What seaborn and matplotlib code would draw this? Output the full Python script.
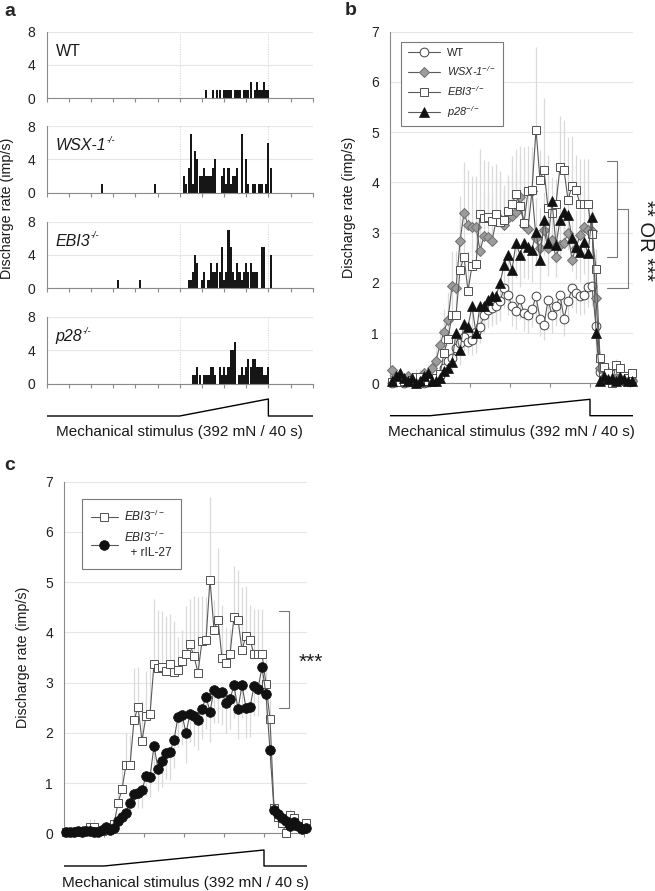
import numpy as np
import pandas as pd
import matplotlib
matplotlib.use("Agg")
import matplotlib.pyplot as plt
import seaborn as sns

sns.set_theme(style="white")
plt.rcParams["font.family"] = ["Liberation Sans", "DejaVu Sans"]
plt.rcParams["mathtext.fontset"] = "custom"
plt.rcParams["mathtext.rm"] = "Liberation Sans"
plt.rcParams["mathtext.it"] = "Liberation Sans:italic"
plt.rcParams["mathtext.bf"] = "Liberation Sans:bold"
plt.rcParams["mathtext.default"] = "regular"

# ---------------- data ----------------
# panel a: single-fibre histograms, 1-s bins (bin centre in s, spikes per bin)
hist_bins = np.arange(0, 121)
wt_bins = [72, 75, 77, 78, 80, 81, 82, 83, 85, 86, 87, 89, 90, 91, 92, 94, 95, 96, 97, 98, 99, 100]
wt_counts = [1, 1, 1, 1, 1, 1, 1, 1, 1, 1, 1, 1, 1, 1, 2, 1, 2, 1, 1, 2, 1, 1]
wsx_bins = [25, 49, 62, 63, 64, 65, 66, 67, 68, 69, 70, 71, 72, 73, 74, 75, 76, 79, 80, 81, 82, 83,
            84, 85, 86, 88, 90, 91, 93, 94, 96, 97, 99, 100, 101]
wsx_counts = [1, 1, 2, 1, 3, 7, 1, 5, 4, 2, 2, 3, 2, 2, 2, 3, 4, 2, 3, 1, 3, 1,
              2, 2, 3, 7, 4, 1, 1, 1, 1, 1, 1, 6, 3]
ebi_bins = [32, 42, 64, 65, 66, 67, 68, 70, 71, 73, 74, 75, 76, 77, 78, 79, 80, 81, 82, 83, 84, 85,
            86, 87, 88, 89, 90, 91, 92, 93, 94, 95, 97, 98, 101]
ebi_counts = [1, 1, 1, 1, 2, 4, 3, 1, 2, 1, 3, 2, 2, 3, 2, 5, 1, 2, 7, 5, 2, 1,
              3, 2, 1, 2, 3, 2, 3, 2, 2, 2, 5, 5, 4]
p28_bins = [66, 67, 68, 69, 71, 72, 73, 74, 75, 76, 78, 79, 80, 81, 82, 83, 84, 85, 87, 88, 89, 90,
            91, 92, 93, 94, 95, 96, 97, 98, 99, 100]
p28_counts = [1, 1, 2, 1, 1, 1, 1, 2, 2, 1, 2, 1, 2, 1, 2, 4, 4, 5, 1, 2, 1, 2,
              3, 2, 3, 3, 2, 2, 2, 1, 1, 2]

# panels b, c: mean discharge rate per 1-s bin, stimulus ramp 0-40 s
time_s = np.arange(-9.5, 51, 1.0)
wt_rate = [0.0, 0.02, 0.05, 0.0, 0.02, 0.05, 0.0, 0.03, 0.0, 0.02,
           0.05, 0.08, 0.15, 0.3, 0.45, 0.5, 0.7, 0.8, 0.93, 0.83,
           0.86, 1.03, 1.12, 1.35, 1.46, 1.49, 1.53, 1.63, 1.89, 1.76,
           1.53, 1.43, 1.67, 1.39, 1.36, 1.47, 1.73, 1.29, 1.16, 1.66,
           1.36, 1.53, 1.76, 1.29, 1.63, 1.89, 1.79, 1.73, 1.76, 1.91,
           1.93, 1.14, 0.23, 0.3, 0.15, 0.1, 0.2, 0.1, 0.05, 0.08, 0.05]
wsx_rate = [0.26, 0.15, 0.1, 0.08, 0.15, 0.1, 0.08, 0.1, 0.2, 0.15,
            0.3, 0.45, 0.76, 1.03, 1.27, 1.94, 1.89, 2.83, 3.4, 3.15,
            3.12, 3.12, 2.64, 2.93, 2.92, 2.84, 3.23, 3.27, 3.15, 3.3,
            3.33, 3.42, 3.7, 3.15, 3.07, 3.83, 2.89, 2.69, 3.05, 2.69,
            2.85, 2.51, 2.75, 2.8, 2.99, 2.46, 2.7, 2.95, 3.12, 3.05,
            3.03, 1.69, 0.3, 0.12, 0.1, 0.05, 0.1, 0.12, 0.08, 0.1, 0.05]
ebi_rate = [0.02, 0.02, 0.03, 0.04, 0.05, 0.06, 0.13, 0.13, 0.05, 0.04,
            0.06, 0.1, 0.18, 0.6, 0.88, 1.36, 1.36, 2.25, 2.52, 1.84,
            2.34, 2.37, 3.37, 3.3, 3.32, 3.23, 3.37, 3.22, 3.25, 3.44,
            3.57, 3.76, 3.52, 3.2, 3.82, 3.85, 5.05, 4.05, 4.25, 3.49,
            3.4, 3.57, 4.3, 4.25, 3.65, 3.93, 3.85, 3.57, 3.57, 3.57,
            2.97, 2.28, 0.5, 0.33, 0.2, 0.0, 0.36, 0.3, 0.15, 0.1, 0.2]
p28_rate = [0.05, 0.15, 0.2, 0.1, 0.05, 0.1, 0.0, 0.05, 0.15, 0.2,
            0.05, 0.05, 0.1, 0.25, 0.3, 0.43, 1.0, 0.66, 1.19, 1.13,
            1.53, 1.0, 1.54, 1.53, 1.66, 1.73, 1.74, 1.99, 2.36, 2.56,
            2.26, 2.79, 2.56, 2.8, 2.72, 2.66, 3.02, 2.46, 3.25, 2.79,
            3.62, 2.76, 3.25, 3.42, 3.35, 2.89, 2.72, 2.62, 2.82, 2.59,
            3.32, 1.0, 0.05, 0.15, 0.08, 0.1, 0.05, 0.12, 0.08, 0.05, 0.05]
il27_rate = [0.02, 0.03, 0.02, 0.05, 0.03, 0.04, 0.05, 0.03, 0.02, 0.06,
             0.12, 0.06, 0.1, 0.24, 0.33, 0.4, 0.61, 0.78, 0.8, 0.86,
             1.14, 1.12, 1.74, 1.29, 1.43, 1.59, 1.62, 1.86, 2.32, 2.36,
             2.0, 2.37, 2.34, 2.26, 2.47, 2.72, 2.42, 2.85, 2.8, 2.81,
             2.59, 2.67, 2.95, 2.47, 2.95, 2.5, 2.51, 2.93, 2.88, 3.31,
             2.77, 1.65, 0.46, 0.38, 0.3, 0.25, 0.15, 0.22, 0.15, 0.08, 0.1]

# SEM (drawn one-sided: up for WSX-1 and EBI3, down for the others)
wt_sem = [0.02] * 10 + [
    0.03, 0.03, 0.06, 0.1, 0.15, 0.18, 0.2, 0.25, 0.28, 0.25,
    0.3, 0.3, 0.32, 0.35, 0.35, 0.35, 0.35, 0.38, 0.4, 0.4,
    0.38, 0.35, 0.38, 0.35, 0.35, 0.35, 0.4, 0.35, 0.3, 0.38,
    0.35, 0.38, 0.4, 0.35, 0.38, 0.4, 0.4, 0.38, 0.38, 0.4,
    0.4, 0.35, 0.1, 0.1, 0.05, 0.04, 0.05, 0.04, 0.03, 0.03, 0.03]
wsx_sem = [0.1, 0.08, 0.06, 0.05, 0.08, 0.06, 0.05, 0.06, 0.1, 0.08,
           0.15, 0.25, 0.35, 0.45, 0.55, 0.7, 0.75, 0.9, 1.0, 1.1,
           1.0, 1.0, 0.9, 0.9, 0.85, 0.85, 0.9, 0.8, 0.8, 0.85,
           0.8, 0.8, 0.85, 0.8, 0.8, 0.75, 0.8, 0.8, 0.75, 0.8,
           0.75, 0.8, 0.75, 0.75, 0.7, 0.8, 0.75, 0.7, 0.7, 0.65,
           0.6, 0.5, 0.15, 0.08, 0.06, 0.05, 0.06, 0.06, 0.05, 0.05, 0.04]
ebi_sem = [0.05, 0.05, 0.05, 0.06, 0.08, 0.1, 0.15, 0.15, 0.08, 0.05,
           0.08, 0.1, 0.15, 0.3, 0.58, 0.64, 0.6, 1.05, 0.8, 0.8,
           0.9, 0.9, 1.3, 1.15, 1.1, 1.1, 1.0, 1.0, 0.65, 0.6,
           0.95, 0.9, 1.2, 1.5, 0.9, 0.85, 1.65, 0.6, 1.43, 1.05,
           0.7, 0.5, 1.03, 1.0, 1.25, 1.0, 0.7, 0.9, 0.9, 0.9,
           0.5, 0.4, 0.15, 0.12, 0.1, 0.05, 0.12, 0.1, 0.08, 0.05, 0.08]
p28_sem = [0.05, 0.08, 0.1, 0.06, 0.04, 0.06, 0.02, 0.04, 0.08, 0.1,
           0.04, 0.04, 0.06, 0.12, 0.15, 0.2, 0.35, 0.3, 0.4, 0.4,
           0.5, 0.4, 0.5, 0.5, 0.5, 0.55, 0.55, 0.6, 0.65, 0.7,
           0.6, 0.7, 0.65, 0.7, 0.65, 0.65, 0.7, 0.6, 0.7, 0.65,
           0.75, 0.65, 0.7, 0.7, 0.7, 0.65, 0.65, 0.6, 0.65, 0.6,
           0.7, 0.4, 0.04, 0.08, 0.05, 0.06, 0.04, 0.06, 0.05, 0.04, 0.04]
il27_sem = [0.02, 0.02, 0.02, 0.03, 0.02, 0.02, 0.03, 0.02, 0.02, 0.03,
            0.05, 0.04, 0.05, 0.1, 0.12, 0.15, 0.2, 0.25, 0.3, 0.35,
            0.4, 0.4, 0.55, 0.45, 0.5, 0.5, 0.55, 0.55, 0.6, 0.6,
            0.6, 0.55, 0.6, 0.6, 0.6, 0.65, 0.6, 0.65, 0.6, 0.65,
            0.6, 0.6, 0.65, 0.6, 0.65, 0.6, 0.6, 0.6, 0.55, 0.55,
            0.5, 0.35, 0.15, 0.12, 0.1, 0.1, 0.08, 0.08, 0.06, 0.05, 0.05]

# stimulus trace (time, force in mN)
stim_a_t = [0, 60, 100, 100, 120]
stim_bc_t = [-10, 0, 40, 40, 50.75]
stim_force = [0, 0, 392, 0, 0]

df_b = pd.DataFrame({"time": time_s, "WT": wt_rate, "WSX": wsx_rate, "EBI3": ebi_rate,
                     "p28": p28_rate, "IL27": il27_rate})

# ---------------- figure ----------------
W, H = 655, 891
fig = plt.figure(figsize=(W / 100, H / 100), dpi=100)
GRAY = "#8a8a8a"
GRID = "#e6e6e6"
ERR = "#dadada"
LINE = "#5a5a5a"
TXT = "#1a1a1a"


def px_axes(x0, y0, x1, y1):
    return fig.add_axes([x0 / W, 1 - y1 / H, (x1 - x0) / W, (y1 - y0) / H])


def style_axes(ax, yticks, ysize):
    for s in ["top", "right"]:
        ax.spines[s].set_visible(False)
    for s in ["left", "bottom"]:
        ax.spines[s].set_color(GRAY)
        ax.spines[s].set_linewidth(0.8)
    ax.set_yticks(yticks)
    ax.yaxis.grid(True, color=GRID, lw=0.8)
    ax.xaxis.grid(False)
    ax.set_axisbelow(True)
    ax.tick_params(axis="y", length=0, pad=8, labelsize=ysize, colors="#222222")
    ax.tick_params(axis="x", bottom=True, direction="out", length=3, width=0.8,
                   color=GRAY, labelbottom=False)
    ax.set_xlabel("")
    ax.set_ylabel("")


def stimulus(x0, x1, y_flat, y_peak, t, xlim, label_y):
    ax = px_axes(x0, y_peak - 5, x1, y_flat + 5)
    span = y_flat - y_peak
    ax.set_ylim(-392 * 5 / span, 392 * (span + 5) / span)
    sns.lineplot(x=t, y=stim_force, sort=False, estimator=None, color="black", lw=1.0, ax=ax)
    ax.set_xlim(*xlim)
    ax.axis("off")
    fig.text((x0 + x1) / 2 / W, 1 - label_y / H, "Mechanical stimulus (392 mN / 40 s)",
             ha="center", va="center", fontsize=11, color=TXT)


# ---------- panel a ----------
rows = [("WT", "", wt_bins, wt_counts, 31.7), ("WSX-1", "-/-", wsx_bins, wsx_counts, 126),
        ("EBI3", "-/-", ebi_bins, ebi_counts, 221.7), ("p28", "-/-", p28_bins, p28_counts, 317)]
for name, sup, bins, cnt, top in rows:
    ax = px_axes(46.7, top, 312.7, top + 66.5)
    counts = np.zeros(len(hist_bins))
    counts[np.searchsorted(hist_bins, bins)] = cnt
    sns.barplot(x=hist_bins, y=counts, native_scale=True, color="#161616", saturation=1,
                width=0.95, linewidth=0, errorbar=None, ax=ax)
    ax.set_xlim(0, 120)
    ax.set_ylim(0, 8)
    style_axes(ax, [0, 4, 8], 10)
    ax.set_xticks(np.arange(0, 121, 10))
    for tx in (60, 100):
        ax.axvline(tx, color="#cfcfcf", ls=(0, (1, 1.5)), lw=0.7, zorder=0)
    lab = ax.text(0.033, 0.64, name, transform=ax.transAxes, fontsize=11.5, color=TXT,
                  fontstyle="normal" if name == "WT" else "italic")
    if sup:
        ax.annotate(sup, xy=(1.0, 0.55), xycoords=lab, fontsize=6.5, color=TXT,
                    fontstyle="italic", va="bottom", ha="left")

fig.text(7 / W, 1 - 208 / H, "Discharge rate (imp/s)", rotation=90, ha="center", va="center",
         fontsize=10.3, color=TXT)
stimulus(46.7, 312.7, 416, 399, stim_a_t, (0, 120), 432)

# ---------- panel b ----------
ax_b = px_axes(390, 31.7, 633, 383.3)
ax_b.vlines(time_s, np.array(wt_rate) - np.array(wt_sem), wt_rate, color=ERR, lw=0.9, zorder=1)
ax_b.vlines(time_s, wsx_rate, np.array(wsx_rate) + np.array(wsx_sem), color=ERR, lw=0.9, zorder=1)
ax_b.vlines(time_s, ebi_rate, np.array(ebi_rate) + np.array(ebi_sem), color=ERR, lw=0.9, zorder=1)
ax_b.vlines(time_s, np.array(p28_rate) - np.array(p28_sem), p28_rate, color=ERR, lw=0.9, zorder=1)

common = dict(data=df_b, x="time", color=LINE, lw=0.8, clip_on=False, ax=ax_b, errorbar=None)
sns.lineplot(y="WT", marker="o", markersize=6.3, markerfacecolor="white",
             markeredgecolor="#404040", markeredgewidth=0.7, zorder=3, **common)
sns.lineplot(y="WSX", marker="D", markersize=5.2, markerfacecolor="#9c9c9c",
             markeredgecolor="#6e6e6e", markeredgewidth=0.7, zorder=4, **common)
sns.lineplot(y="EBI3", marker="s", markersize=6.2, markerfacecolor="white",
             markeredgecolor="#505050", markeredgewidth=0.7, zorder=5, **common)
sns.lineplot(y="p28", marker="^", markersize=7, markerfacecolor="#111111",
             markeredgecolor="#111111", markeredgewidth=0.5, zorder=6, **common)
handles_b = list(ax_b.lines)
ax_b.set_xlim(-10, 50.75)
ax_b.set_ylim(0, 7)
style_axes(ax_b, range(0, 8), 10)
ax_b.set_xticks(np.arange(-10, 51, 10))
ax_b.set_ylabel("Discharge rate (imp/s)", fontsize=10.3, color=TXT)
ax_b.yaxis.set_label_coords(-0.14, 0.5)
leg = ax_b.legend(handles_b, ["WT", "WSX-1$^{-/-}$", "EBI3$^{-/-}$", "p28$^{-/-}$"],
                  loc="upper left", bbox_to_anchor=(0.045, 0.972), borderaxespad=0, fontsize=7.9,
                  frameon=True, fancybox=False, framealpha=1, edgecolor="#7a7a7a",
                  handlelength=3.0, handletextpad=0.6, labelspacing=0.55, borderpad=0.6)
leg.get_frame().set_linewidth(0.8)
for t in leg.get_texts()[1:]:
    t.set_fontstyle("italic")

# significance brackets
bk = dict(color="#7a7a7a", lw=0.8, clip_on=False)
ax_b.plot([44.25, 46.8, 46.8, 44.25], [4.42, 4.42, 2.51, 2.51], **bk)
ax_b.plot([46.8, 49.4, 49.4, 44.25], [3.47, 3.47, 1.89, 1.89], **bk)
ax_b.text(53.9, 2.85, "** OR ***", rotation=-90, ha="center", va="center", fontsize=14.5,
          color=TXT, clip_on=False)
stimulus(390, 633, 415.7, 399.3, stim_bc_t, (-10, 50.75), 432)

# ---------- panel c ----------
ax_c = px_axes(64, 481.7, 307, 833.3)
ax_c.vlines(time_s, ebi_rate, np.array(ebi_rate) + np.array(ebi_sem), color=ERR, lw=0.9, zorder=1)
ax_c.vlines(time_s, np.array(il27_rate) - np.array(il27_sem), il27_rate, color=ERR, lw=0.9, zorder=1)
common["ax"] = ax_c
sns.lineplot(y="EBI3", marker="s", markersize=6.2, markerfacecolor="white",
             markeredgecolor="#505050", markeredgewidth=0.7, zorder=3, **common)
sns.lineplot(y="IL27", marker="o", markersize=7, markerfacecolor="#111111",
             markeredgecolor="#111111", markeredgewidth=0.5, zorder=4, **common)
handles_c = list(ax_c.lines)
ax_c.set_xlim(-10, 50.75)
ax_c.set_ylim(0, 7)
style_axes(ax_c, range(0, 8), 10)
ax_c.set_xticks(np.arange(-10, 51, 10))
ax_c.set_ylabel("Discharge rate (imp/s)", fontsize=10.3, color=TXT)
ax_c.yaxis.set_label_coords(-0.14, 0.5)
leg = ax_c.legend(handles_c, [r"$\mathit{EBI3}^{-/-}$", r"$\mathit{EBI3}^{-/-}$" + "\n  + rIL-27"],
                  loc="upper left", bbox_to_anchor=(0.073, 0.95), borderaxespad=0, fontsize=8.6,
                  frameon=True, fancybox=False, framealpha=1, edgecolor="#7a7a7a",
                  handlelength=2.2, handletextpad=0.5, labelspacing=0.5, borderpad=0.8)
leg.get_frame().set_linewidth(0.8)
ax_c.plot([43.7, 46.2, 46.2, 43.7], [4.42, 4.42, 2.5, 2.5], **bk)
ax_c.text(51.6, 3.41, "***", ha="center", va="center", fontsize=15, color=TXT, clip_on=False)
stimulus(64, 307, 866, 850, stim_bc_t, (-10, 50.75), 883)

# panel letters
fig.text(4 / W, 1 - 16 / H, "a", fontsize=14, fontweight="bold")
fig.text(345 / W, 1 - 15 / H, "b", fontsize=14, fontweight="bold")
fig.text(4 / W, 1 - 470 / H, "c", fontsize=14, fontweight="bold")

fig.savefig("out.png", dpi=100)
